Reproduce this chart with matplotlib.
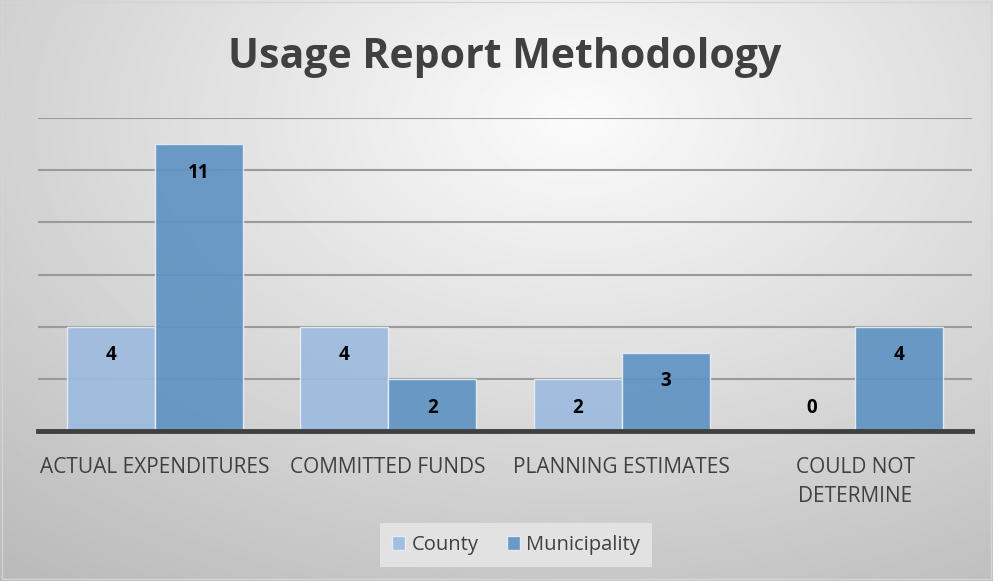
import numpy as np
import matplotlib.pyplot as plt
from matplotlib.patches import Rectangle

categories = ["ACTUAL EXPENDITURES", "COMMITTED FUNDS", "PLANNING ESTIMATES", "COULD NOT\nDETERMINE"]
county = [4, 4, 2, 0]
municipality = [11, 2, 3, 4]
series_names = ["County", "Municipality"]

COUNTY_COLOR = "#9dbbdf"
MUNI_COLOR = "#5f93c2"
TEXT_GRAY = "#404040"

plt.rcParams['font.family'] = ['Open Sans', 'DejaVu Sans']

fig = plt.figure(figsize=(9.93, 5.81), dpi=100)

# gradient background
bg = fig.add_axes([0, 0, 1, 1], zorder=-10)
yy, xx = np.mgrid[0:1:300j, 0:1:500j]
r = np.sqrt(((xx - 0.58) / 1.0) ** 2 + ((yy - 0.2) / 1.1) ** 2)
shade = np.clip(0.985 - 0.28 * r, 0.72, 1.0)
bg.imshow(shade, cmap="gray", vmin=0, vmax=1, aspect="auto",
          extent=[0, 1, 1, 0], interpolation="bilinear")
bg.set_xlim(0, 1)
bg.set_ylim(1, 0)
bg.axis("off")
bg.add_patch(Rectangle((0.002, 0.003), 0.996, 0.994, fill=False,
                       edgecolor="#d4d4d4", lw=1.0, transform=bg.transAxes))

ax = fig.add_axes([38 / 993, 1 - 431 / 581, 934 / 993, 313 / 581])
ax.set_facecolor("none")

x = np.arange(len(categories))
w = 0.377
ax.bar(x - w / 2, county, w, color=COUNTY_COLOR, alpha=0.92,
       edgecolor="#e8eef6", linewidth=1.0, zorder=3, label=series_names[0])
ax.bar(x + w / 2, municipality, w, color=MUNI_COLOR, alpha=0.92,
       edgecolor="#e8eef6", linewidth=1.0, zorder=3, label=series_names[1])

for xs, vals in ((x - w / 2, county), (x + w / 2, municipality)):
    for xi, v in zip(xs, vals):
        ax.text(xi, max(v - 1.1, 0.9), str(v), ha="center", va="center",
                fontsize=13.5, fontweight="bold", color="black", zorder=5)

ax.set_xlim(-0.5, 3.5)
ax.set_ylim(0, 12)
ax.set_yticks([2, 4, 6, 8, 10, 12])
ax.yaxis.grid(True, color="#9a9a9a", linewidth=1.5, zorder=1)
ax.tick_params(axis="y", left=False, labelleft=False)
ax.set_xticks(x)
ax.set_xticklabels(categories, fontsize=15, color=TEXT_GRAY, linespacing=1.5, va="top")
ax.tick_params(axis="x", length=0, pad=19)
for s in ["top", "right", "left"]:
    ax.spines[s].set_visible(False)
ax.spines["bottom"].set_color("#404040")
ax.spines["bottom"].set_linewidth(3.5)
ax.spines["bottom"].set_zorder(6)

fig.text(505 / 993, 1 - 58 / 581, "Usage Report Methodology", ha="center", va="center",
         fontsize=29.5, fontweight="bold", color=TEXT_GRAY)

leg = fig.legend(loc="center", bbox_to_anchor=(516 / 993, 1 - 545 / 581), ncol=2,
                 frameon=True, fontsize=14.5, handlelength=0.65, handleheight=0.65,
                 handletextpad=0.3, columnspacing=1.4, borderpad=0.6)
leg.get_frame().set_facecolor("#e2e2e2")
leg.get_frame().set_edgecolor("none")
leg.get_frame().set_alpha(1)
leg.get_frame().set_boxstyle("square", pad=0)
for t in leg.get_texts():
    t.set_color(TEXT_GRAY)

fig.savefig("out.png", dpi=100)
